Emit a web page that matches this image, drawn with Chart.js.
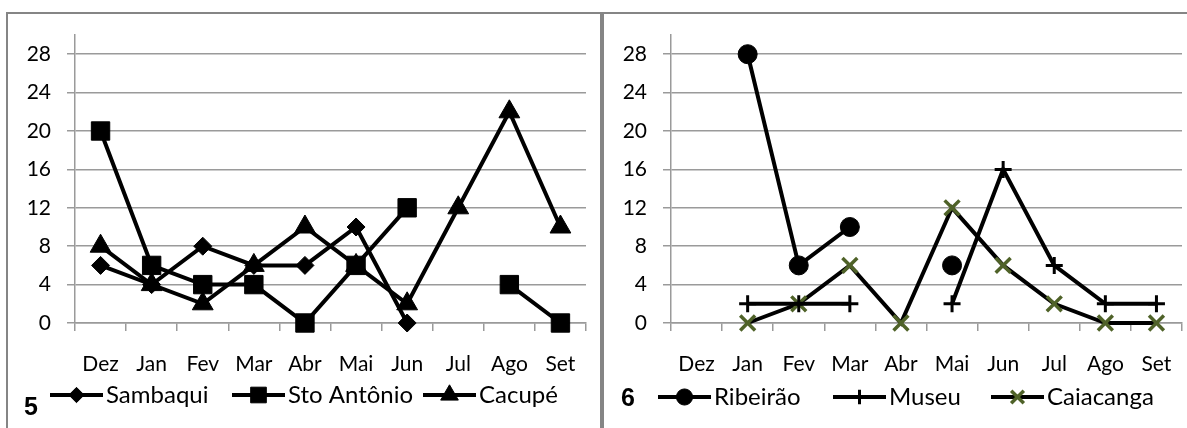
<!DOCTYPE html>
<html>
<head>
<meta charset="utf-8">
<script src="https://cdn.jsdelivr.net/npm/chart.js@4.4.0/dist/chart.umd.min.js"></script>
<style>
    html, body { margin: 0; padding: 0; background: #fff; overflow: hidden; }
    body { width: 1187px; height: 428px; position: relative; }
    .painel { position: absolute; top: 12px; width: 592px; height: 430px; border: 2px solid #858585; border-bottom: none; background: #fff; }
    #painel5 { left: 6px; }
    #painel6 { left: 602px; }
    .painel canvas { position: absolute; left: 0; top: 0; }
    .num { position: absolute; font: bold 25px/25px "Liberation Sans", Arial, sans-serif; color: #000; }
</style>
</head>
<body>
<div class="painel" id="painel5"><canvas id="chart5" width="592" height="414"></canvas></div>
<div class="painel" id="painel6"><canvas id="chart6" width="592" height="414"></canvas></div>
<div class="num" style="left:24px; top:394px;">5</div>
<div class="num" style="left:621px; top:385px;">6</div>
<script>
const meses = ["Dez", "Jan", "Fev", "Mar", "Abr", "Mai", "Jun", "Jul", "Ago", "Set"];
const ticksY = [0, 4, 8, 12, 16, 20, 24, 28];

// figura 5
const sambaqui   = [6, 4, 8, 6, 6, 10, 0, null, null, null];
const stoAntonio = [20, 6, 4, 4, 0, 6, 12, null, 4, 0];
const cacupe     = [8, 4, 2, 6, 10, 6, 2, 12, 22, 10];

// figura 6
const ribeirao  = [null, 28, 6, 10, null, 6, null, null, null, null];
const museu     = [null, 2, 2, 2, null, 2, 16, 6, 2, 2];
const caiacanga = [null, 0, 2, 6, 0, 12, 6, 2, 0, 0];

const fonte = { family: "Lato", size: 21 };
const fonteLegenda = "24px Lato";
const cinza = "#9a9a9a";

function serie(label, data, estilo, raio, cor, borda) {
    return {
        label: label,
        data: data,
        borderColor: "#000",
        borderWidth: 4,
        pointStyle: estilo,
        pointRadius: raio,
        pointBackgroundColor: cor,
        pointBorderColor: cor,
        pointBorderWidth: borda,
        tension: 0,
        clip: false,
        spanGaps: false
    };
}

// legenda do Excel: linha com o marcador no meio
const legendaLinhas = {
    id: "legendaLinhas",
    afterDraw(chart, args, opts) {
        const ctx = chart.ctx;
        ctx.save();
        ctx.font = fonteLegenda;
        ctx.textBaseline = "middle";
        const y = opts.y;
        chart.data.datasets.forEach((ds, i) => {
            let x = opts.xs[i];
            ctx.strokeStyle = "#000";
            ctx.lineWidth = ds.borderWidth;
            ctx.beginPath();
            ctx.moveTo(x, y);
            ctx.lineTo(x + opts.linha, y);
            ctx.stroke();
            ctx.fillStyle = ds.pointBackgroundColor;
            ctx.strokeStyle = ds.pointBorderColor;
            ctx.lineWidth = ds.pointBorderWidth;
            Chart.helpers.drawPoint(ctx, {
                pointStyle: ds.pointStyle,
                radius: ds.pointRadius * 0.85,
                rotation: 0,
                borderWidth: ds.pointBorderWidth
            }, x + opts.linha / 2, y);
            ctx.fillStyle = "#000";
            ctx.fillText(ds.label, x + opts.linha + opts.gapTexto, y);
        });
        ctx.restore();
    }
};

function opcoes(legXs, legY) {
    return {
        responsive: false,
        animation: false,
        devicePixelRatio: 1,
        layout: { padding: { left: 0, right: 8, top: 21, bottom: 45 } },
        plugins: {
            legend: { display: false },
            tooltip: { enabled: false },
            legendaLinhas: { xs: legXs, y: legY, linha: 53, gapTexto: 3 }
        },
        scales: {
            x: {
                offset: true,
                grid: { offset: true, drawOnChartArea: false, tickLength: 8, color: cinza, lineWidth: 1.5 },
                border: { color: cinza, width: 1.5 },
                ticks: { font: fonte, color: "#000", padding: 21, maxRotation: 0, autoSkip: false },
                afterFit: s => { s.height = 60; s.paddingLeft = 0; s.paddingRight = 0; }
            },
            y: {
                min: 0,
                max: 30,
                afterBuildTicks: s => { s.ticks = ticksY.map(v => ({ value: v })); },
                afterFit: s => { s.width = 67; s.paddingTop = 0; s.paddingBottom = 0; },
                grid: { tickLength: 8, color: cinza, lineWidth: 1.5 },
                border: { color: cinza, width: 1.5 },
                ticks: { font: fonte, color: "#000", padding: 16 }
            }
        }
    };
}

function criar() {
    new Chart(document.getElementById("chart5"), {
        type: "line",
        data: {
            labels: meses,
            datasets: [
                serie("Sambaqui", sambaqui, "rectRot", 9, "#000", 1),
                serie("Sto Antônio", stoAntonio, "rect", 13, "#000", 1),
                serie("Cacupé", cacupe, "triangle", 12, "#000", 1)
            ]
        },
        options: opcoes([42, 224, 415], 381),
        plugins: [legendaLinhas]
    });

    new Chart(document.getElementById("chart6"), {
        type: "line",
        data: {
            labels: meses,
            datasets: [
                serie("Ribeirão", ribeirao, "circle", 9.5, "#000", 1),
                serie("Museu", museu, "cross", 8.5, "#000", 3),
                serie("Caiacanga", caiacanga, "crossRot", 10.5, "#4f6228", 3.5)
            ]
        },
        options: opcoes([54, 229, 387], 383),
        plugins: [legendaLinhas]
    });
}

document.fonts.load("21px Lato").then(criar, criar);
</script>
</body>
</html>
